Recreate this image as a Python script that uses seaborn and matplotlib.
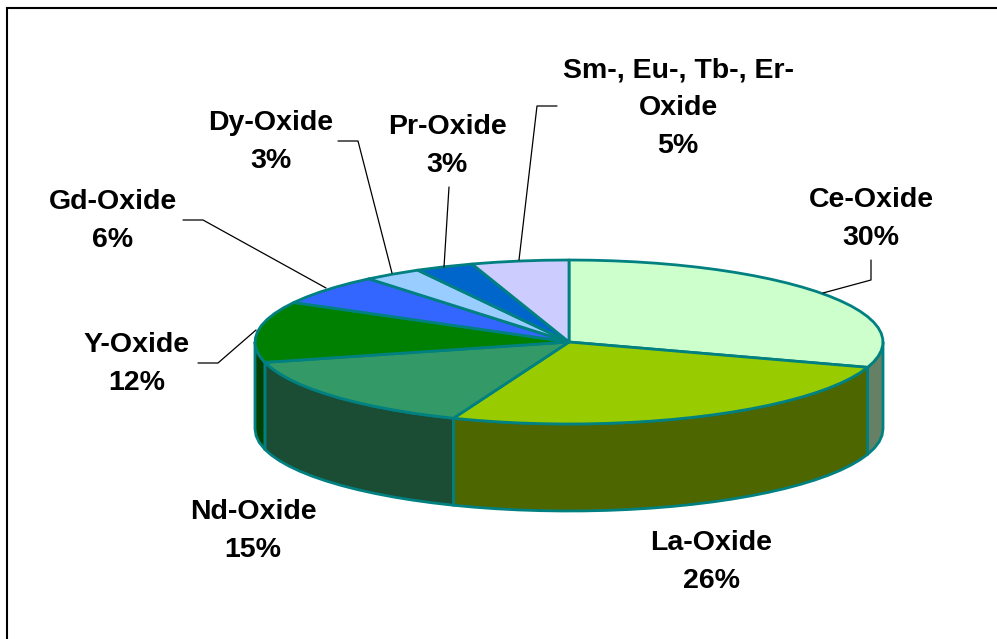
import matplotlib.pyplot as plt
from matplotlib.patches import Polygon
import numpy as np
import seaborn as sns

names = ['Ce-Oxide', 'La-Oxide', 'Nd-Oxide', 'Y-Oxide', 'Gd-Oxide', 'Dy-Oxide', 'Pr-Oxide', 'Sm-, Eu-, Tb-, Er-\nOxide']
values = [30, 26, 15, 12, 6, 3, 3, 5]
hex_colors = ['#CCFFCC', '#99CC00', '#339966', '#008000', '#3366FF', '#99CCFF', '#0066CC', '#CCCCFF']

label_pos = [(871, 219), (711, 562), (253, 531), (137, 364), (113, 221), (271, 142), (447, 146), (678, 108)]
leaders = [
    [(871, 260), (871, 280), (823, 293)],
    [(198, 363), (218, 363), (256, 330)],
    [(183, 220), (203, 220), (326, 288)],
    [(338, 141), (358, 141), (392, 273)],
    [(449, 187), (444, 267)],
    [(557, 106), (537, 106), (519, 260)],
]

cx, cy, rx, ry, depth = 569, 342, 314, 82, 87
edge = '#008080'

sns.set_theme(style='white')
plt.rcParams['font.family'] = ['Liberation Sans', 'DejaVu Sans']
palette = sns.color_palette(hex_colors)


def rim(a0, a1):
    # angles run clockwise from 12 o'clock, coarse steps keep the faceted look
    n = max(int((a1 - a0) / 4), 1)
    t = np.radians(np.linspace(a0, a1, n + 1))
    return np.column_stack([cx + rx * np.sin(t), cy - ry * np.cos(t)])


fig, ax = plt.subplots(figsize=(9.97, 6.39), dpi=100)
fig.subplots_adjust(0, 0, 1, 1)
ax.set_xlim(0, 997)
ax.set_ylim(639, 0)
ax.axis('off')

# the frame only shows on the top and left
ax.plot([7, 7, 997], [639, 8, 8], color='black', lw=1.5, solid_joinstyle='miter')

stops = np.cumsum([0] + values) * 3.6

# side walls first, only the part facing the viewer
for i, c in enumerate(palette):
    a0, a1 = max(stops[i], 90), min(stops[i + 1], 270)
    if a1 <= a0:
        continue
    top = rim(a0, a1)
    bottom = top[::-1] + [0, depth]
    dark = tuple(v * 0.5 for v in c)
    ax.add_patch(Polygon(np.vstack([top, bottom]), closed=True, fc=dark, ec=edge, lw=2, joinstyle='round'))

# top face
for i, c in enumerate(palette):
    pts = np.vstack([[cx, cy], rim(stops[i], stops[i + 1])])
    ax.add_patch(Polygon(pts, closed=True, fc=c, ec=edge, lw=2, joinstyle='round'))

for line in leaders:
    xs, ys = zip(*line)
    ax.plot(xs, ys, color='black', lw=0.9)

for name, val, (x, y) in zip(names, values, label_pos):
    ax.text(x, y, f'{name}\n{val}%', ha='center', va='center', fontsize=20.5,
            fontweight='bold', color='black', linespacing=1.58)

fig.savefig('out.png', dpi=100)
